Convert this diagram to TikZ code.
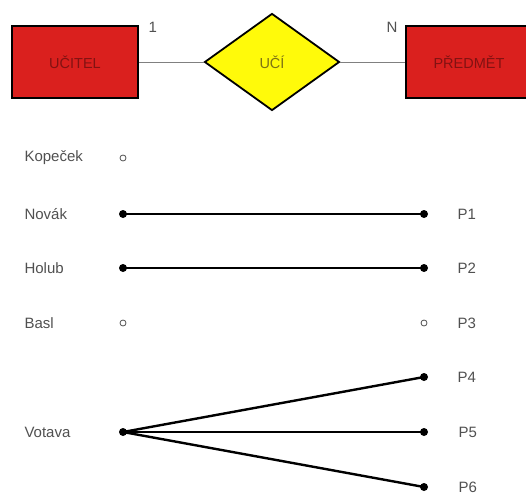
\documentclass[tikz,border=0pt]{standalone}
\usepackage{fontspec}
\setmainfont{Liberation Sans}
\usetikzlibrary{shapes.geometric}
\definecolor{erred}{RGB}{218,32,30}
\definecolor{ertext}{RGB}{130,18,18}
\definecolor{eryellow}{RGB}{255,250,10}
\definecolor{relText}{RGB}{125,115,20}
\definecolor{labgray}{RGB}{80,80,80}

\begin{document}
\begin{tikzpicture}[x=1pt,y=-1pt,
                    entity/.style={rectangle,draw=black,line width=1.8pt,fill=erred,text=ertext,
                                   minimum width=126pt,minimum height=72pt,font=\fontsize{14.5}{16}\selectfont},
                    relation/.style={diamond,draw=black,line width=1.8pt,fill=eryellow,text=relText,inner sep=0pt,
                                   minimum width=135pt,minimum height=97pt,font=\fontsize{14.5}{16}\selectfont},
                    tag/.style={anchor=west,text=labgray,font=\fontsize{15}{17}\selectfont},
                    full dot/.style={circle,fill=black,inner sep=0pt,minimum size=8pt},
                    empty dot/.style={circle,draw=labgray,line width=0.8pt,inner sep=0pt,minimum size=6pt},
                    link/.style={line width=2.4pt,black}]
  \useasboundingbox (0,0) rectangle (526,494);

  % ER part
  \node[entity](ucitel) at (75,62) {UČITEL};
  \node[relation](uci) at (272,62) {UČÍ};
  \node[entity](predmet) at (469,62) {PŘEDMĚT};
  \draw[gray,thin] (ucitel) -- (uci);
  \draw[gray,thin] (uci) -- (predmet);
  \node[tag](one) at (145,27) {1};
  \node[tag](n) at (383,27) {N};

  % teachers
  \node[tag](kopecek) at (21,158) {Kopeček};
  \node[tag](novak) at (21,214) {Novák};
  \node[tag](holub) at (21,268) {Holub};
  \node[tag](basl) at (21,323) {Basl};
  \node[tag](votava) at (21,432) {Votava};

  % subjects
  \node[tag](p1) at (454,214) {P1};
  \node[tag](p2) at (454,268) {P2};
  \node[tag](p3) at (454,323) {P3};
  \node[tag](p4) at (454,377) {P4};
  \node[tag](p5) at (455,432) {P5};
  \node[tag](p6) at (455,487) {P6};

  % dots
  \node[empty dot](dk) at (123,158) {};
  \node[full dot](dn) at (123,214) {};
  \node[full dot](dh) at (123,268) {};
  \node[empty dot](db) at (123,323) {};
  \node[full dot](dv) at (123,432) {};
  \node[full dot](d1) at (424,214) {};
  \node[full dot](d2) at (424,268) {};
  \node[empty dot](d3) at (424,323) {};
  \node[full dot](d4) at (424,377) {};
  \node[full dot](d5) at (424,432) {};
  \node[full dot](d6) at (424,487) {};

  \draw[link] (dn.center) -- (d1.center);
  \draw[link] (dh.center) -- (d2.center);
  \draw[link] (dv.center) -- (d4.center);
  \draw[link] (dv.center) -- (d5.center);
  \draw[link] (dv.center) -- (d6.center);
\end{tikzpicture}
\end{document}
